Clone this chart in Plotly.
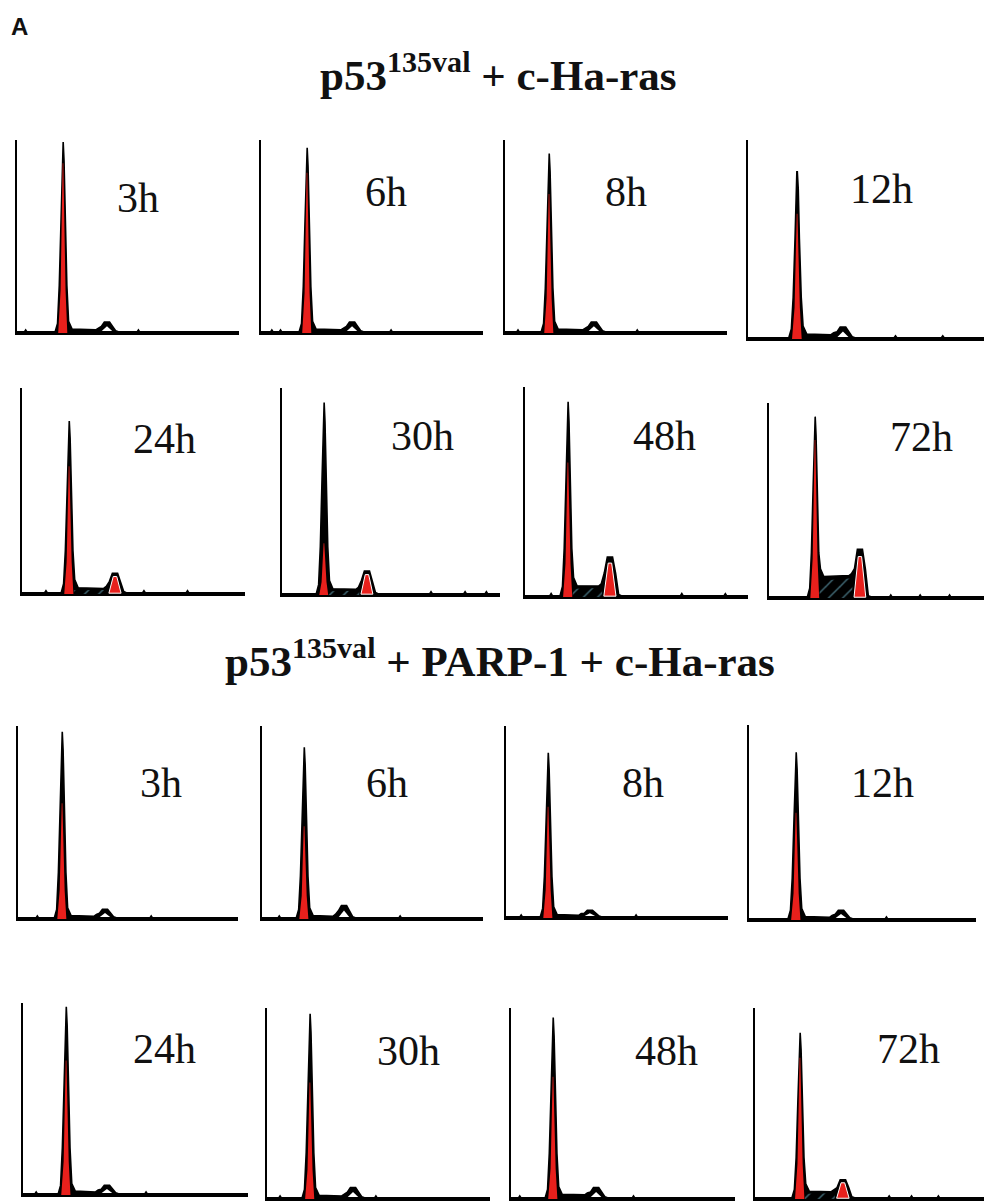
import plotly.graph_objects as go

# ---------------- data ----------------
time_labels = ["3h", "6h", "8h", "12h", "24h", "30h", "48h", "72h",
               "3h", "6h", "8h", "12h", "24h", "30h", "48h", "72h"]
group_titles = ["<b>p53<sup>135val</sup> + c-Ha-ras</b>",
                "<b>p53<sup>135val</sup> + PARP-1 + c-Ha-ras</b>"]

# DNA content channel (0-1024) of G0/G1 and G2/M peaks
g1_channel = [212, 212, 203, 213, 216, 197, 197, 219, 205, 195, 194, 212, 196, 197, 192, 201]
g2_channel = [415, 420, 410, 412, 427, 399, 390, 433, 405, 380, 387, 415, 382, 395, 389, 393]
# cell counts (% of axis height)
g1_count = [99, 96, 93, 84, 84, 93, 93, 93, 97, 89, 86, 86, 98, 97, 95, 87]
g1_fit_count = [88, 83, 72, 63, 62, 25, 64, 81, 60, 48, 58, 55, 70, 61, 64, 74]
g2_count = [5.7, 5.7, 5.7, 6, 10, 11.6, 19, 25, 5, 7, 4, 5, 5, 6, 6, 10]
s_phase_count = [1, 1, 1, 1.5, 2, 2, 4.3, 10, 0.8, 0.8, 0.8, 0.8, 1, 1, 1.5, 3]
g2_fit_filled = [False, False, False, False, True, True, True, True,
                 False, False, False, False, False, False, False, True]
debris_channels = [[40, 560], [50, 90, 600], [60, 610], [640, 845],
                   [110, 560, 760], [700, 860, 960], [120, 720, 920], [580, 720, 860],
                   [90, 620], [80, 640], [70, 600], [620],
                   [60, 560], [60, 500], [40, 560], [600, 700, 820]]

# ---------------- layout (pixel boxes of each panel) ----------------
W, H = 984, 1202
panel_left = [17, 261, 505, 748, 22, 282, 525, 769, 18, 262, 506, 749, 23, 267, 511, 755]
panel_right = [239, 483, 727, 984, 245, 500, 748, 984, 238, 483, 728, 976, 248, 490, 735, 984]
panel_top = [140, 140, 140, 140, 388, 388, 387, 403, 726, 726, 726, 725, 1003, 1008, 1008, 1008]
panel_bottom = [333, 333, 333, 339, 594, 595, 597, 598, 919, 919, 918, 920, 1195, 1199, 1199, 1199]
label_center = [(138, 198), (386, 192), (626, 192), (881, 189),
                (164, 439), (422, 436), (664, 436), (921, 437),
                (161, 783), (387, 783), (643, 783), (882, 783),
                (164, 1049), (408, 1051), (666, 1051), (908, 1049)]

RED = "#e8201c"
HATCH = "#7fd0e8"

fig = go.Figure()
layout = dict(width=W, height=H, margin=dict(l=0, r=0, t=0, b=0),
              paper_bgcolor="white", plot_bgcolor="white", showlegend=False,
              annotations=[])

for i in range(16):
    n = i + 1
    xa = "x" if n == 1 else f"x{n}"
    ya = "y" if n == 1 else f"y{n}"
    c1, c2 = g1_channel[i], g2_channel[i]
    h, r, g, s = g1_count[i], g1_fit_count[i], g2_count[i], s_phase_count[i]

    # measured histogram outline
    xs = [0]
    ys = [0.6]
    for d in sorted(debris_channels[i]):
        if d < c1 - 40:
            xs += [d - 6, d, d + 6]
            ys += [0.6, 1.6, 0.6]
    xs += [c1 - 36, c1 - 25, c1 - 17, c1 - 9, c1 - 4, c1 - 1, c1 + 1, c1 + 5, c1 + 10, c1 + 18, c1 + 26, c1 + 42,
           c2 - 52, c2 - 40, c2 - 26, c2 - 12, c2 + 12, c2 + 26, c2 + 40, c2 + 52]
    ys += [0.6, 5, 0.25 * h, 0.6 * h, 0.9 * h, h, h, 0.9 * h, 0.6 * h, 0.25 * h, s + 5, s + 1,
           s * 1.1 + 0.5, s * 1.1 + 1.5, 0.6 * g, g, g, 0.6 * g, 1.2, 0.6]
    for d in sorted(debris_channels[i]):
        if d > c2 + 52:
            xs += [d - 6, d, d + 6]
            ys += [0.6, 1.6, 0.6]
    xs += [1024]
    ys += [0.6]
    fig.add_trace(go.Scatter(x=xs, y=ys, mode="lines", fill="tozeroy",
                             fillcolor="black", line=dict(color="black", width=1.6),
                             hoverinfo="skip", xaxis=xa, yaxis=ya))

    # S-phase (hatched)
    if s >= 2:
        fig.add_trace(go.Scatter(x=[c1 + 22, c1 + 40, c2 - 50, c2 - 36],
                                 y=[s * 0.9, s * 0.9, s * 1.0, s * 1.0],
                                 mode="lines", fill="tozeroy", line=dict(width=0, color="black"),
                                 fillcolor="black",
                                 fillpattern=dict(shape="/", bgcolor="black", fgcolor=HATCH,
                                                  size=10, solidity=0.15),
                                 hoverinfo="skip", xaxis=xa, yaxis=ya))

    # fitted G1 peak (red)
    fig.add_trace(go.Scatter(x=[c1 - 22, c1 - 11, c1 - 1.5, c1 + 1.5, c1 + 12, c1 + 20, c1 - 22],
                             y=[0, 0.25 * r, r, r, 0.25 * r, 0, 0],
                             mode="lines", fill="toself", fillcolor=RED,
                             line=dict(width=0, color=RED), hoverinfo="skip", xaxis=xa, yaxis=ya))

    # fitted G2 peak
    if g2_fit_filled[i]:
        fig.add_trace(go.Scatter(x=[c2 - 28, c2 - 8, c2 + 8, c2 + 28, c2 - 28],
                                 y=[0.4, 0.85 * g, 0.85 * g, 0.4, 0.4],
                                 mode="lines", fill="toself", fillcolor=RED,
                                 line=dict(width=1, color="white"), hoverinfo="skip",
                                 xaxis=xa, yaxis=ya))
    else:
        fig.add_trace(go.Scatter(x=[c2 - 24, c2, c2 + 24, c2 - 24],
                                 y=[1.0, 0.62 * g, 1.0, 1.0],
                                 mode="lines", fill="toself", fillcolor="white",
                                 line=dict(width=0, color="white"), hoverinfo="skip",
                                 xaxis=xa, yaxis=ya))

    xd = [panel_left[i] / W, panel_right[i] / W]
    yd = [1 - panel_bottom[i] / H, 1 - panel_top[i] / H]
    ax = dict(showline=True, linecolor="black", linewidth=2, showticklabels=False,
              ticks="", showgrid=False, zeroline=False, fixedrange=True)
    layout["xaxis" if n == 1 else f"xaxis{n}"] = dict(ax, domain=xd, range=[0, 1024], anchor=ya)
    layout["yaxis" if n == 1 else f"yaxis{n}"] = dict(ax, domain=yd, range=[0, 100], anchor=xa)

    cx, cy = label_center[i]
    layout["annotations"].append(dict(text=time_labels[i], x=cx / W, y=1 - cy / H,
                                      xref="paper", yref="paper", xanchor="center", yanchor="middle",
                                      showarrow=False,
                                      font=dict(family="Liberation Serif", size=42, color="#111")))

layout["annotations"].append(dict(text=group_titles[0], x=499 / W, y=1 - 72 / H, xref="paper", yref="paper",
                                  xanchor="center", yanchor="middle", showarrow=False,
                                  font=dict(family="Liberation Serif", size=43, color="#111")))
layout["annotations"].append(dict(text=group_titles[1], x=500 / W, y=1 - 658 / H, xref="paper", yref="paper",
                                  xanchor="center", yanchor="middle", showarrow=False,
                                  font=dict(family="Liberation Serif", size=43, color="#111")))
layout["annotations"].append(dict(text="<b>A</b>", x=9 / W, y=1 - 27 / H, xref="paper", yref="paper",
                                  xanchor="left", yanchor="middle", showarrow=False,
                                  font=dict(family="Liberation Sans", size=24, color="#111")))

fig.update_layout(**layout)
fig.write_html("out.html", config={"displayModeBar": False},
               post_script="document.body.style.margin='0';document.body.style.overflow='hidden';")
